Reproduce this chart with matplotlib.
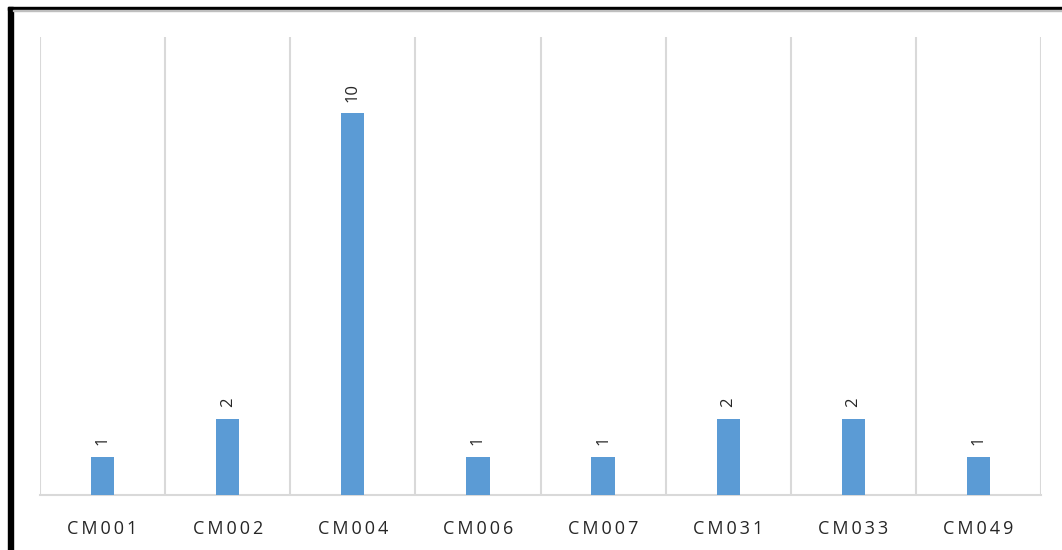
import matplotlib.pyplot as plt
from matplotlib.patches import Rectangle
import numpy as np

codes = ['CM001', 'CM002', 'CM004', 'CM006', 'CM007', 'CM031', 'CM033', 'CM049']
counts = [1, 2, 10, 1, 1, 2, 2, 1]


def main():
    plt.rcParams['font.family'] = ['Open Sans', 'DejaVu Sans']
    fig = plt.figure(figsize=(10.62, 5.5), dpi=100)
    ax = fig.add_axes([40 / 1062, 55 / 550, 1001 / 1062, 458 / 550])

    x = np.arange(len(codes))
    bars = ax.bar(x, counts, width=0.185, color='#5b9bd5', zorder=3)
    for b, v in zip(bars, counts):
        ax.text(b.get_x() + b.get_width() / 2, v + 0.3, str(v),
                rotation=90, ha='center', va='bottom', fontsize=12,
                color='#262626')

    ax.set_xlim(-0.5, len(codes) - 0.5)
    ax.set_ylim(0, 12)
    ax.set_yticks([])
    ax.set_xticks(x)
    ax.set_xticklabels(['\u2009'.join(c) for c in codes], fontsize=13,
                       color='#262626')
    ax.tick_params(axis='x', length=0, pad=18)
    ax.set_xticks(np.arange(-0.5, len(codes)), minor=True)
    ax.tick_params(axis='x', which='minor', length=0)
    ax.grid(True, which='minor', axis='x', color='#d9d9d9', linewidth=1.5)
    for side in ['top', 'right', 'left']:
        ax.spines[side].set_visible(False)
    ax.spines['bottom'].set_color('#d9d9d9')
    ax.spines['bottom'].set_linewidth(1.5)

    # black frame on the left and top edges
    W, H = 1062, 550
    fig.patches.append(Rectangle((8 / W, 0), 5 / W, 543 / H,
                                 transform=fig.transFigure, color='black'))
    fig.patches.append(Rectangle((8 / W, 540 / H), 1 - 8 / W, 3 / H,
                                 transform=fig.transFigure, color='black'))
    fig.patches.append(Rectangle((13 / W, 539 / H), 1 - 13 / W, 1.2 / H,
                                 transform=fig.transFigure, color='#bfbfbf'))

    fig.savefig('out.png', dpi=100)


if __name__ == '__main__':
    main()
